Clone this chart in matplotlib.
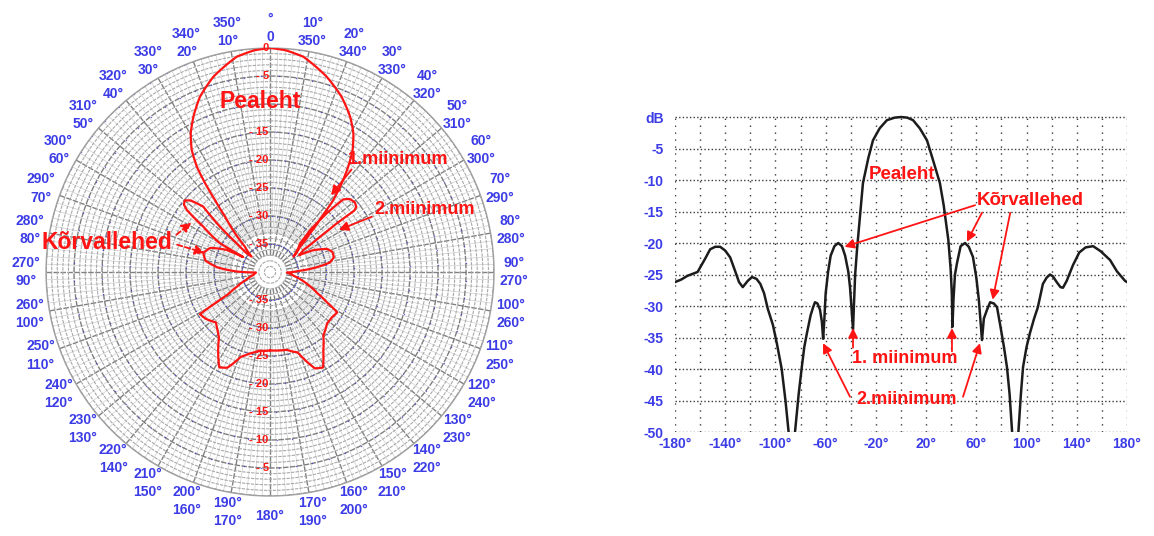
import numpy as np
import matplotlib.pyplot as plt

plt.rcParams['font.family'] = ['Liberation Sans', 'DejaVu Sans']

# left: polar pattern,
# angle clockwise from north (deg) and level (dB)
polar_deg = [-180, -172, -166, -161, -156, -152, -147, -142, -138, -133, -126, -121,
             -119.5, -118, -114, -108, -100, -92,
             -89, -85, -80, -74, -68, -63, -61,
             -60.7, -60.1, -55.8, -53.3, -52, -50, -48, -45.6, -47.8, -49.3, -51.3,
             -50.1, -44.7, -42.1, -39.1, -37.4, -36.2, -34.8, -32.7, -29.8, -26.3, -21.8,
             -16.2, -8.8, -4, 0, 4, 8.8, 16.2, 22.2, 27.3, 31, 34.1, 36.6, 38.9, 41.3,
             43.1, 46, 49.9, 56.7,
             46.3, 43.6, 44, 45.2, 47.5, 50.5, 53, 53.9, 53.9, 54.8, 56.6,
             60, 63, 68, 72, 77, 81, 84, 88, 92,
             100, 108, 114, 118, 121, 126, 132, 140, 146, 151, 155, 161, 168, 180]
polar_db = [-26.0, -25.8, -25.0, -24.0, -21.3, -20.7, -23.0, -25.2, -26.0, -26.8, -25.8, -25.4,
            -29.0, -31.5, -33.5, -35.5, -37.0, -37.5,
            -34.0, -30.6, -28.3, -27.6, -28.5, -31.3, -34.5,
            -33.2, -29.7, -25.6, -21.5, -20.5, -20.1, -20.9, -23.3, -27.9, -32.1, -34.7,
            -35.7, -33.6, -30.7, -27.3, -23.8, -20.4, -17.1, -14.1, -11.5, -9.1, -6.3,
            -3.7, -1.1, -0.3, 0.0, -0.3, -1.1, -3.7, -6.2, -8.8, -11.1, -13.7, -16.6, -19.6, -22.9,
            -26.5, -30.1, -33.0, -35.0,
            -32.6, -29.6, -25.4, -21.6, -20.7, -20.4, -20.7, -21.4, -25.3, -29.1, -32.9,
            -34.0, -31.5, -29.0, -28.3, -28.3, -29.2, -31.5, -35.0, -37.0,
            -35.5, -33.0, -30.8, -28.5, -26.0, -26.3, -26.3, -25.2, -23.0, -20.5, -21.0, -24.8, -25.8, -26.0]

ring_labels_front = [0, -5, -15, -20, -25, -30, -35]
ring_labels_back = [-35, -30, -25, -20, -15, -10, -5]

# right: same kind of pattern on a rectangular grid
rect_deg = [-180, -175, -170, -162, -156, -152, -148, -144, -140, -136, -132, -129, -126, -122,
            -118.7, -115, -112, -109, -106, -102, -98.8, -95, -92, -89.5, -87, -84.4, -81.5, -79,
            -77, -74.9, -72, -70, -68.5, -66.5, -64.5, -63, -62, -61, -60, -58, -56, -53, -50, -47,
            -44.5, -42, -40.6, -39.5, -38.2, -37.5, -36.5, -35, -33, -30.3, -26, -22.3, -17, -11.2,
            -5, 0, 5, 9.6, 15, 20.7, 25, 31, 34, 37.7, 39.5, 40.5, 41, 41.8, 43, 44.6, 47.5, 51, 54,
            57.3, 60, 62, 64.5, 66, 68.5, 71, 74, 76.5, 79, 82, 84.4, 86.5, 88.5, 91, 93.5, 95.5,
            97.2, 100, 102.7, 106, 109, 113, 116, 118.7, 121, 124, 127, 129, 132, 137, 142, 147, 153,
            159, 166.5, 172, 178.4, 180]
rect_db = [-26.2, -25.8, -25.2, -24.6, -22.5, -21.0, -20.6, -20.6, -21.2, -22.3, -24.5, -26.2, -27.0, -26.0,
           -25.4, -25.7, -26.5, -28.0, -30.5, -33.0, -36.0, -40.0, -45.0, -50.0, -52.0, -50.0, -44.0, -39.7,
           -36.5, -34.3, -31.5, -30.2, -29.4, -29.6, -30.6, -32.5, -35.2, -32.0, -28.0, -24.5, -22.0, -20.5, -20.0, -20.5,
           -22.0, -24.5, -27.0, -30.0, -33.8, -30.0, -25.0, -21.0, -16.5, -10.5, -6.5, -3.7, -1.8, -0.5,
           -0.1, 0.0, -0.1, -0.5, -1.8, -3.7, -6.5, -10.5, -14.0, -19.5, -24.0, -28.0, -33.3, -29.0, -25.0, -23.2, -20.5, -20.0, -20.6,
           -22.2, -25.5, -29.0, -35.4, -32.0, -30.6, -29.4, -29.6, -30.2, -33.0, -36.5, -39.7, -44.0, -50.0, -52.0, -50.0, -44.0,
           -39.7, -36.5, -34.3, -32.0, -30.2, -26.5, -25.5, -25.0, -25.3, -26.2, -27.0, -27.1, -26.0, -23.5, -21.5, -20.7, -20.5,
           -21.3, -22.7, -24.5, -26.0, -26.2]

x_ticks = list(range(-180, 181, 20))
y_ticks = list(range(0, -51, -5))

RED = '#ff1414'
BLUE = '#3c3ce6'
W, H = 1154, 536


def draw_polar(fig):
    ax = fig.add_axes([0.0399, 0.0746, 0.3882, 0.8358], projection='polar')
    ax.set_theta_zero_location('N')
    ax.set_theta_direction(-1)
    ax.set_rlim(-40, 0)
    ax.set_yticks(np.arange(-35, 1, 5))
    ax.set_yticks(np.arange(-39, 0, 1), minor=True)
    ax.set_xticks([])
    ax.set_xticklabels([])
    ax.set_yticklabels([])
    ax.tick_params(which='both', length=0)
    ax.grid(which='major', axis='y', color='#7e7e7e', lw=1.0, ls=(0, (4, 1)))
    ax.grid(which='minor', axis='y', color='#a9a9a9', lw=0.8, ls=(0, (3, 1)))
    ax.spines['polar'].set_color('#a0a0a0')
    ax.spines['polar'].set_linewidth(1.0)

    # radial lines
    for a in range(0, 360, 2):
        th = np.deg2rad(a)
        if a % 10 == 0:
            ax.plot([th, th], [-37, 0], color='#808080', lw=1.0, ls=(0, (4, 1)), zorder=1)
        else:
            ax.plot([th, th], [-33, 0], color='#cdcdcd', lw=0.5, zorder=1)

    # blue dots sprinkled on the rings
    th_dots, r_dots = np.meshgrid(np.deg2rad(np.arange(2.5, 360, 5)), np.arange(-35, 1, 5))
    ax.scatter(th_dots.ravel(), r_dots.ravel(), s=1.0, color=BLUE, lw=0, alpha=0.75, zorder=2)

    line, = ax.plot(np.deg2rad(polar_deg), polar_db, color=RED, lw=1.6, zorder=4,
                    solid_joinstyle='round')
    # let the polar transform draw each segment as a spiral instead of a chord
    line.get_path()._interpolation_steps = 16

    # level labels along the vertical axis
    for v in ring_labels_front:
        txt = '0' if v == 0 else '- %d' % abs(v)
        ax.annotate(txt, xy=(0, v), xytext=(-1, 0), textcoords='offset points',
                    ha='right', va='center', color=RED, fontsize=8, fontweight='bold', zorder=5)
    for v in ring_labels_back:
        ax.annotate('- %d' % abs(v), xy=(np.pi, v), xytext=(-1, 0), textcoords='offset points',
                    ha='right', va='center', color=RED, fontsize=8, fontweight='bold', zorder=5)

    # angle labels: clockwise value on top, counter-clockwise value below
    r_lab = 3.6
    for a in range(0, 360, 10):
        th = np.deg2rad(a)
        if a == 180:
            pairs = [('180°', 0)]
        elif a == 0:
            pairs = [('°', 6.5), ('0', -6.5)]
        else:
            pairs = [('%d°' % a, 6.5), ('%d°' % (360 - a), -6.5)]
        for txt, dy in pairs:
            ax.annotate(txt, xy=(th, r_lab), xytext=(0, dy), textcoords='offset points',
                        ha='center', va='center', color=BLUE, fontsize=10,
                        fontweight='bold', annotation_clip=False)

    arrow = dict(arrowstyle='-|>', color=RED, lw=1.3, mutation_scale=14, shrinkA=0, shrinkB=0)
    text_kw = dict(color=RED, fontweight='bold', ha='center', va='center', annotation_clip=False)

    ax.annotate('Pealeht', xy=(np.deg2rad(-3.4), -9.5), fontsize=16.5, **text_kw)
    ax.annotate('1.miinimum', xy=(np.deg2rad(48.6), -9.5), fontsize=13, **text_kw)
    ax.annotate('2.miinimum', xy=(np.deg2rad(67.9), -10.3), fontsize=13, **text_kw)
    ax.annotate('Kõrvallehed', xy=(np.deg2rad(-79.8), -10.4), fontsize=16.5, **text_kw)

    ax.annotate('', xy=(np.deg2rad(38.5), -22.5), xytext=(np.deg2rad(38.5), -16.6), arrowprops=arrow)
    ax.annotate('', xy=(np.deg2rad(58.5), -25.6), xytext=(np.deg2rad(61.5), -19.3), arrowprops=arrow)
    dashed = dict(arrow, ls=(0, (3, 1.5)))
    ax.annotate('', xy=(np.deg2rad(-57.9), -23.4), xytext=(np.deg2rad(-68.3), -22.0), arrowprops=dashed)
    ax.annotate('', xy=(np.deg2rad(-73.7), -27.8), xytext=(np.deg2rad(-73.6), -22.7), arrowprops=dashed)


def draw_rect(fig):
    ax = fig.add_axes([0.5849, 0.194, 0.3917, 0.5924])
    ax.plot(rect_deg, rect_db, color='#1c1c1c', lw=1.8, zorder=3)
    ax.set_xlim(-180, 180)
    ax.set_ylim(-50, 0.4)

    ax.set_xticks(x_ticks)
    ax.set_xticklabels(['%d°' % v if (v + 180) % 40 == 0 else '' for v in x_ticks])
    ax.set_yticks(y_ticks)
    ax.set_yticklabels(['dB' if v == 0 else str(v) for v in y_ticks])
    ax.tick_params(length=0, labelcolor=BLUE, labelsize=10)
    ax.tick_params(axis='x', pad=3.5)
    ax.tick_params(axis='y', pad=8)
    for lab in ax.get_xticklabels() + ax.get_yticklabels():
        lab.set_fontweight('bold')
    for s in ax.spines.values():
        s.set_visible(False)

    ax.grid(axis='x', color='#3a3a3a', lw=1.0, ls=(0, (1, 4)))
    ax.grid(axis='y', color='#3a3a3a', lw=1.0, ls=(0, (1, 1.6)))

    text_kw = dict(color=RED, fontweight='bold', ha='center', va='center')
    ax.text(0.8, -9.2, 'Pealeht', fontsize=13.5, **text_kw)
    ax.text(102.7, -13.2, 'Kõrvallehed', fontsize=13.5, **text_kw)
    ax.text(3.2, -38.4, '1. miinimum', fontsize=13, **text_kw)
    ax.text(4.8, -44.9, '2.miinimum', fontsize=13, **text_kw)

    arrow = dict(arrowstyle='-|>', color=RED, lw=1.3, mutation_scale=14, shrinkA=0, shrinkB=0)
    ax.annotate('', xy=(-45, -20.6), xytext=(59, -14), arrowprops=arrow)
    ax.annotate('', xy=(52.5, -19.8), xytext=(64.5, -15.2), arrowprops=arrow)
    ax.annotate('', xy=(73, -29), xytext=(87, -15.2), arrowprops=arrow)
    ax.annotate('', xy=(-38.2, -33.5), xytext=(-38.2, -36.6), arrowprops=arrow)
    ax.annotate('', xy=(40.6, -33.5), xytext=(40.6, -37.2), arrowprops=arrow)
    ax.annotate('', xy=(-62.1, -35.9), xytext=(-40.6, -44.4), arrowprops=arrow)
    ax.annotate('', xy=(62.9, -35.9), xytext=(49.4, -44.4), arrowprops=arrow)


def main():
    fig = plt.figure(figsize=(W / 100, H / 100), dpi=100)
    draw_polar(fig)
    draw_rect(fig)
    fig.savefig('out.png', dpi=100)


if __name__ == '__main__':
    main()
